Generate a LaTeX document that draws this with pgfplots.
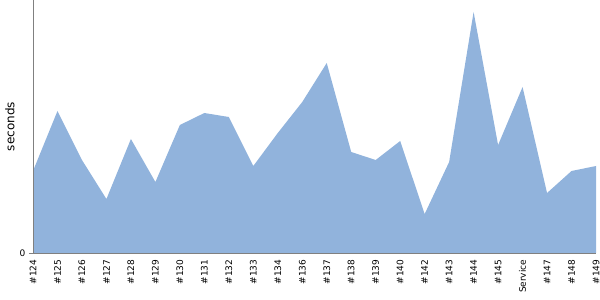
\documentclass[border=0pt]{standalone}
\usepackage{fontspec}
\setmainfont{DejaVu Sans}
\usepackage{pgfplots}
\pgfplotsset{compat=1.18}
\definecolor{fillc}{RGB}{145,179,220}
\definecolor{axc}{RGB}{128,128,128}
\begin{document}
\begin{tikzpicture}[x=1pt,y=1pt]
\path[use as bounding box] (0,0) rectangle (600,300);
\begin{axis}[
  at={(33pt,47pt)}, anchor=south west,
  scale only axis, width=563pt, height=253pt,
  xmin=0, xmax=23, ymin=0, ymax=253,
  axis lines*=left,
  axis line style={axc, line width=0.8pt},
  axis on top,
  xtick={0,...,23},
  xticklabels={\#124,\#125,\#126,\#127,\#128,\#129,\#130,\#131,\#132,\#133,\#134,\#136,\#137,\#138,\#139,\#140,\#142,\#143,\#144,\#145,Service,\#147,\#148,\#149},
  x tick label style={rotate=90, anchor=east, font=\fontsize{9}{9}\selectfont, inner sep=1pt, xshift=1.5pt},
  xtick style={draw=none},
  xticklabel shift=3pt,
  ytick={0},
  y tick label style={font=\fontsize{9}{9}\selectfont},
  ytick style={axc, line width=0.8pt},
  tick align=outside, major tick length=4pt,
  ylabel={seconds},
  every axis y label/.style={at={(axis description cs:0,0.5)}, rotate=90, anchor=center, yshift=23pt, font=\fontsize{12}{12}\selectfont},
  /pgf/number format/assume math mode=true,
]
\addplot[fill=fillc, draw=none] coordinates {
 (0,82) (1,142) (2,93) (3,54) (4,114) (5,71) (6,128) (7,140) (8,136) (9,87)
 (10,120) (11,151) (12,190) (13,101) (14,93) (15,112) (16,39) (17,91) (18,241)
 (19,108) (20,166) (21,60) (22,82) (23,87)
} \closedcycle;
\end{axis}
\end{tikzpicture}
\end{document}
